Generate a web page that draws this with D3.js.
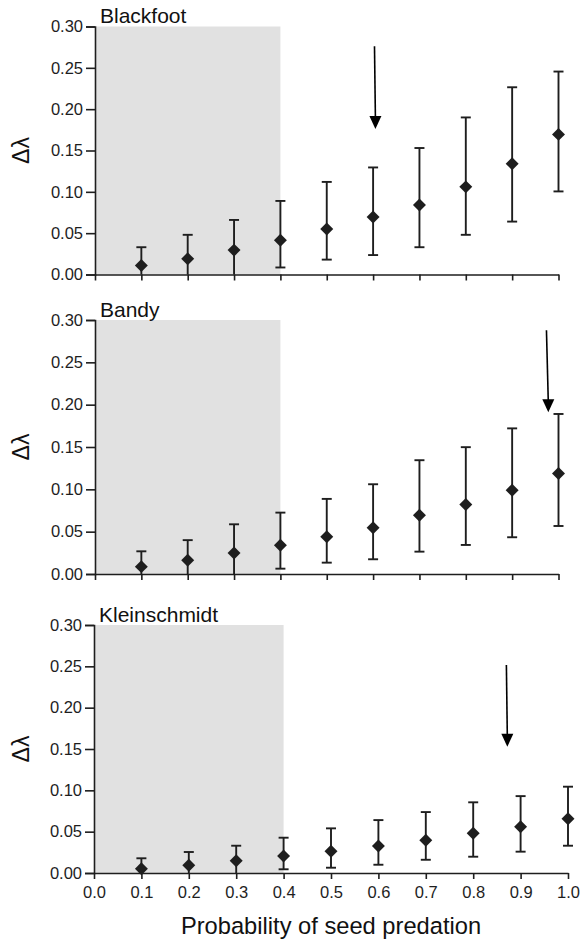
<!DOCTYPE html>
<html>
<head>
<meta charset="utf-8">
<script src="https://cdn.jsdelivr.net/npm/d3@7"></script>
<style>
  body { margin: 0; background: #fff; }
  svg { display: block; font-family: "Liberation Sans", Arial, Helvetica, sans-serif; }
</style>
</head>
<body>
<div id="chart"></div>
<script>
// predation probabilities on the x axis
var predation = [0.1, 0.2, 0.3, 0.4, 0.5, 0.6, 0.7, 0.8, 0.9, 1.0];
var xTicks = [0, 0.1, 0.2, 0.3, 0.4, 0.5, 0.6, 0.7, 0.8, 0.9, 1.0];
var yTicks = [0, 0.05, 0.10, 0.15, 0.20, 0.25, 0.30];
var siteNames = ["Blackfoot", "Bandy", "Kleinschmidt"];

// delta lambda, mean and interval bounds per site
var blackfootMean = [0.011, 0.019, 0.0295, 0.0415, 0.055, 0.0695, 0.084, 0.106, 0.134, 0.1695];
var blackfootLow  = [0, 0, 0, 0.0085, 0.018, 0.0235, 0.033, 0.048, 0.064, 0.1005];
var blackfootHigh = [0.033, 0.048, 0.066, 0.089, 0.112, 0.1295, 0.153, 0.190, 0.2265, 0.2455];

var bandyMean = [0.0087, 0.0162, 0.0248, 0.034, 0.044, 0.0547, 0.0694, 0.082, 0.099, 0.1186];
var bandyLow  = [0, 0, 0, 0.0063, 0.0134, 0.0174, 0.0264, 0.0343, 0.0434, 0.0567];
var bandyHigh = [0.0268, 0.040, 0.0587, 0.0725, 0.0887, 0.106, 0.1344, 0.1498, 0.172, 0.189];

var kleinMean = [0.0052, 0.0093, 0.0149, 0.0206, 0.0262, 0.0326, 0.0395, 0.048, 0.056, 0.0657];
var kleinLow  = [0, 0, 0, 0.0045, 0.0064, 0.010, 0.016, 0.0197, 0.0258, 0.033];
var kleinHigh = [0.0178, 0.0254, 0.033, 0.0427, 0.054, 0.064, 0.0737, 0.0855, 0.093, 0.1044];

// shaded region (probability 0 - 0.4) and observed predation arrows [x0, y0, x1, y1]
var shadeRange = [0, 0.4];
var arrows = [
    [0.603, 0.276, 0.605, 0.176],
    [0.974, 0.288, 0.978, 0.191],
    [0.870, 0.2515, 0.872, 0.1527]
];

var means = [blackfootMean, bandyMean, kleinMean];
var lows = [blackfootLow, bandyLow, kleinLow];
var highs = [blackfootHigh, bandyHigh, kleinHigh];

function init() {
    var w = 588;
    var h = 939;
    var ink = "#1e1e1e";

    // panel frames in pixels
    var frames = [
        { left: 95, right: 558.5, top: 26.5, bottom: 274.5 },
        { left: 95, right: 558.5, top: 320, bottom: 574 },
        { left: 94, right: 568, top: 625, bottom: 873 }
    ];

    var svg = d3.select("#chart")
        .append("svg")
        .attr("width", w)
        .attr("height", h);

    frames.forEach(function(f, p) {
        var xScale = d3.scaleLinear().domain([0, 1]).range([f.left, f.right]);
        var yScale = d3.scaleLinear().domain([0, 0.3]).range([f.bottom, f.top]);
        var g = svg.append("g");

        // grey shade
        g.append("rect")
            .attr("x", xScale(shadeRange[0]))
            .attr("y", yScale(0.3))
            .attr("width", xScale(shadeRange[1]) - xScale(shadeRange[0]))
            .attr("height", yScale(0) - yScale(0.3))
            .style("fill", "#e1e1e1");

        // y axis
        var yAxis = g.append("g")
            .attr("transform", "translate(" + f.left + ",0)")
            .call(d3.axisLeft(yScale).tickValues(yTicks).tickFormat(d3.format(".2f"))
                .tickSize(9).tickSizeOuter(9).tickPadding(3));

        // x axis
        var xAxis = g.append("g")
            .attr("transform", "translate(0," + f.bottom + ")")
            .call(d3.axisBottom(xScale).tickValues(xTicks).tickFormat(d3.format(".1f"))
                .tickSize(6).tickSizeOuter(0).tickPadding(7));
        if (p < 2) xAxis.selectAll("text").remove();

        [yAxis, xAxis].forEach(function(a) {
            a.selectAll("path, line").style("stroke", ink).style("stroke-width", 1.6);
            a.selectAll("text").style("font-size", "16.5px").style("fill", ink)
                .style("font-family", "'Liberation Sans', Arial, sans-serif");
        });

        var pts = predation.map(function(x, i) {
            return { x: x, m: means[p][i], lo: lows[p][i], hi: highs[p][i] };
        });

        // error bars
        var bars = g.selectAll(".bar")
            .data(pts)
            .enter()
            .append("g")
            .attr("class", "bar");
        bars.append("line")
            .attr("x1", function(d) { return xScale(d.x); })
            .attr("x2", function(d) { return xScale(d.x); })
            .attr("y1", function(d) { return yScale(d.lo); })
            .attr("y2", function(d) { return yScale(d.hi); });
        bars.append("line")
            .attr("x1", function(d) { return xScale(d.x) - 5; })
            .attr("x2", function(d) { return xScale(d.x) + 5; })
            .attr("y1", function(d) { return yScale(d.hi); })
            .attr("y2", function(d) { return yScale(d.hi); });
        bars.filter(function(d) { return d.lo > 0; })
            .append("line")
            .attr("x1", function(d) { return xScale(d.x) - 5; })
            .attr("x2", function(d) { return xScale(d.x) + 5; })
            .attr("y1", function(d) { return yScale(d.lo); })
            .attr("y2", function(d) { return yScale(d.lo); });
        bars.selectAll("line").style("stroke", ink).style("stroke-width", 1.9);

        // diamonds
        g.selectAll(".pt")
            .data(pts)
            .enter()
            .append("path")
            .attr("class", "pt")
            .attr("d", d3.symbol(d3.symbolSquare, 84))
            .attr("transform", function(d) {
                return "translate(" + xScale(d.x) + "," + yScale(d.m) + ") rotate(45)";
            })
            .style("fill", ink);

        // arrow
        var a = arrows[p];
        var ax0 = xScale(a[0]), ay0 = yScale(a[1]), ax1 = xScale(a[2]), ay1 = yScale(a[3]);
        g.append("line")
            .attr("x1", ax0).attr("y1", ay0)
            .attr("x2", ax1).attr("y2", ay1 - 10)
            .style("stroke", "#000").style("stroke-width", 1.6);
        g.append("path")
            .attr("d", "M" + (ax1 - 6) + "," + (ay1 - 13) + "L" + (ax1 + 6) + "," + (ay1 - 13) + "L" + ax1 + "," + ay1 + "Z")
            .style("fill", "#000");

        // site name
        g.append("text")
            .attr("x", f.left + 5)
            .attr("y", f.top - 3.5)
            .style("font-size", "21px")
            .style("fill", "#111")
            .text(siteNames[p]);

        // y label
        g.append("text")
            .attr("transform", "translate(29," + ((f.top + f.bottom) / 2) + ") rotate(-90)")
            .attr("text-anchor", "middle")
            .style("font-size", "23px")
            .style("fill", "#111")
            .text("Δλ");

        if (p === 2) {
            g.append("text")
                .attr("x", (f.left + f.right) / 2)
                .attr("y", 934)
                .attr("text-anchor", "middle")
                .style("font-size", "23.7px")
                .style("fill", "#111")
                .text("Probability of seed predation");
        }
    });
}

window.onload = init;
</script>
</body>
</html>
